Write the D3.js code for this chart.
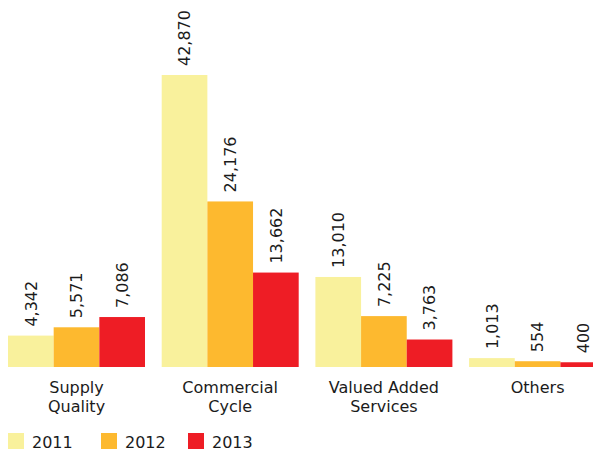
<!DOCTYPE html>
<html>
<head>
<meta charset="utf-8">
<script src="https://cdn.jsdelivr.net/npm/d3@7"></script>
<style>
  html, body { margin: 0; padding: 0; background: #fff; }
  svg { display: block; font-family: Verdana, "DejaVu Sans", sans-serif; }
</style>
</head>
<body>
<svg id="chart" width="593" height="454"></svg>
<script>
// Orders by category and year
const categories = [["Supply", "Quality"], ["Commercial", "Cycle"], ["Valued Added", "Services"], ["Others"]];
const years = ["2011", "2012", "2013"];
const values2011 = [4342, 42870, 13010, 1013];
const values2012 = [5571, 24176, 7225, 554];
const values2013 = [7086, 13662, 3763, 400];
const colors = ["#F9F19C", "#FDB92F", "#EE1D25"];

const series = [values2011, values2012, values2013];
const rows = categories.map((c, i) => ({
  key: c.join(" "),
  lines: c,
  vals: series.map((s, j) => ({ year: years[j], value: s[i], color: colors[j] }))
}));

const svg = d3.select("#chart");
const baseY = 367, topY = 75;
const fontSize = 16;
const textColor = "#1b1b1b";

const step = 153.7, gap = 16.7, left = 8;
const x0 = d3.scaleBand()
  .domain(rows.map(r => r.key))
  .range([left, left + rows.length * step - gap])
  .paddingInner(gap / step)
  .paddingOuter(0);

const x1 = d3.scaleBand().domain(years).range([0, x0.bandwidth()]).padding(0);

// value axis starts a little below zero so the smallest bars keep a visible sliver
const y = d3.scaleLinear().domain([-300, d3.max(values2011)]).range([baseY, topY]);

const groups = svg.selectAll("g.group").data(rows).join("g")
  .attr("class", "group")
  .attr("transform", d => `translate(${x0(d.key)},0)`);

groups.selectAll("rect").data(d => d.vals).join("rect")
  .attr("x", d => x1(d.year))
  .attr("y", d => y(d.value))
  .attr("width", x1.bandwidth())
  .attr("height", d => baseY - y(d.value))
  .attr("fill", d => d.color);

const fmt = d3.format(",");
groups.selectAll("text.val").data(d => d.vals).join("text")
  .attr("class", "val")
  .attr("transform", d => `translate(${x1(d.year) + x1.bandwidth() / 2},${y(d.value) - 9}) rotate(-90)`)
  .attr("dy", "0.36em")
  .attr("text-anchor", "start")
  .attr("font-size", fontSize)
  .attr("fill", textColor)
  .text(d => fmt(d.value));

// Category labels under the groups
const xAxis = d3.axisBottom(x0).tickSize(0).tickFormat(() => "");
const axisG = svg.append("g").attr("transform", `translate(0,${baseY})`).call(xAxis);
axisG.select(".domain").remove();
axisG.selectAll(".tick").each(function(key) {
  const r = rows.find(d => d.key === key);
  const t = d3.select(this).select("text")
    .attr("y", 0).attr("dy", null)
    .attr("font-size", fontSize)
    .attr("font-family", "Verdana, 'DejaVu Sans', sans-serif")
    .attr("fill", textColor);
  r.lines.forEach((line, i) => {
    t.append("tspan").attr("x", 0).attr("y", 26 + i * 19).text(line);
  });
});

// Legend
const legendX = [8, 101, 188];
const legend = svg.selectAll("g.legend").data(years).join("g")
  .attr("class", "legend")
  .attr("transform", (d, i) => `translate(${legendX[i]},433)`);
legend.append("rect").attr("width", 16).attr("height", 16).attr("fill", (d, i) => colors[i]);
legend.append("text")
  .attr("x", 24).attr("y", 15)
  .attr("font-size", fontSize)
  .attr("fill", textColor)
  .text(d => d);
</script>
</body>
</html>
